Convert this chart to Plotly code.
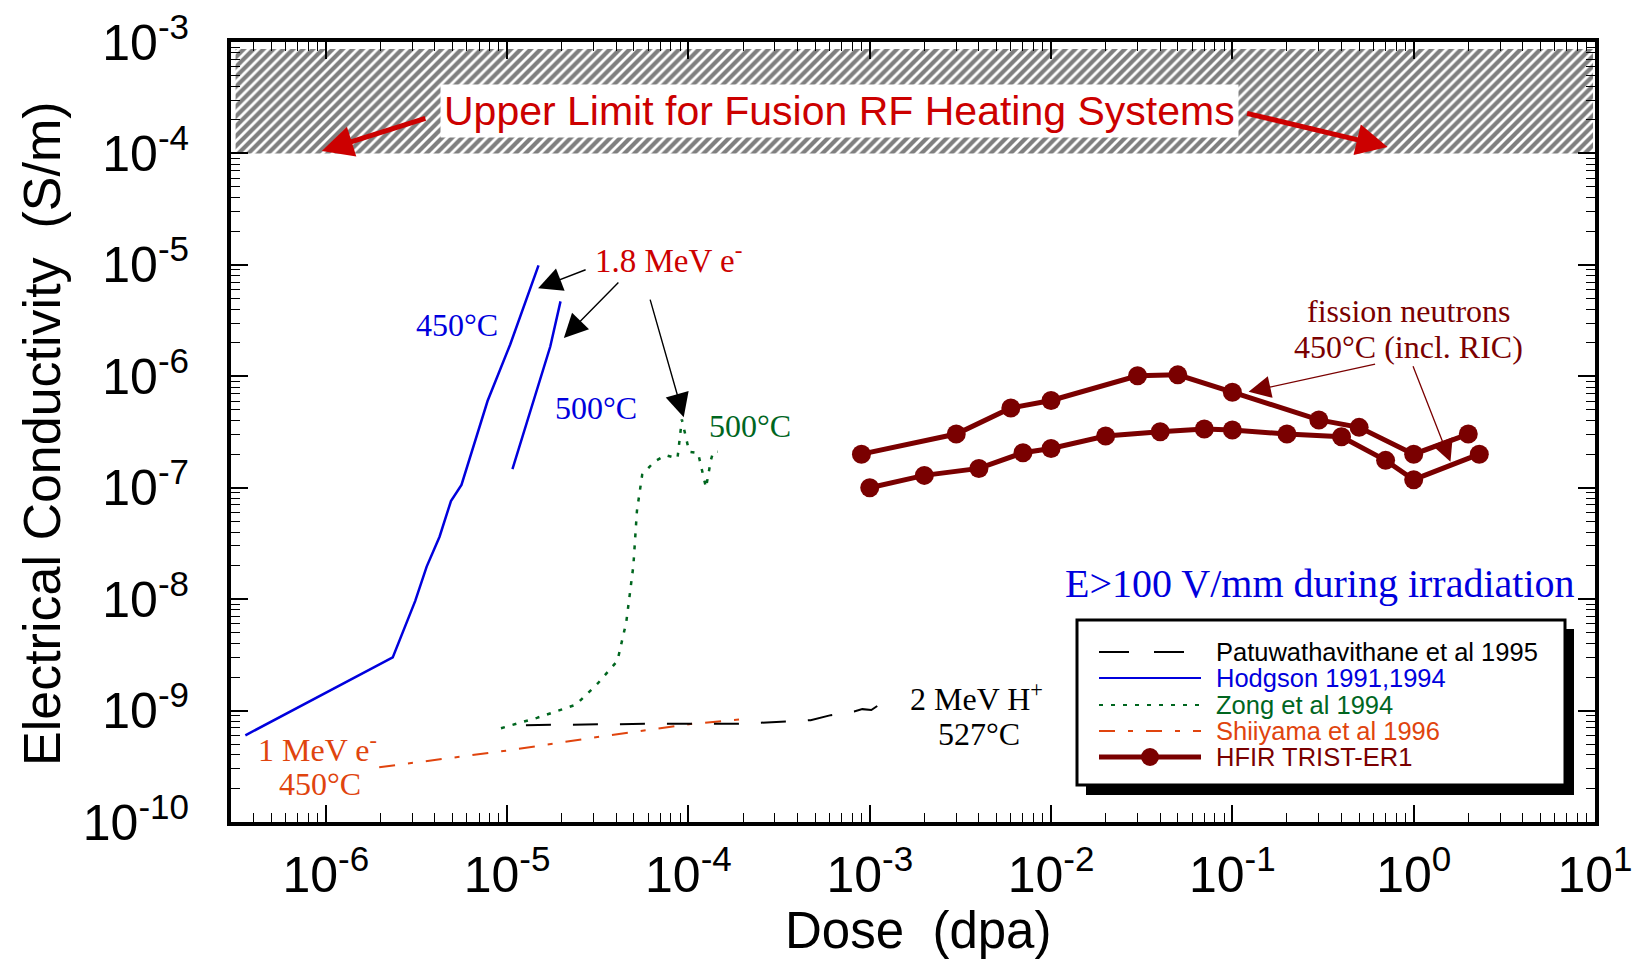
import numpy as np
import plotly.graph_objects as go

# ---------------- data ----------------
# Hodgson 1991,1994 (1.8 MeV electrons)
hodg450_x = [3.6e-7, 2.34e-6, 3.11e-6, 3.6e-6, 4.24e-6, 4.9e-6, 5.6e-6, 7.8e-6, 1.04e-5, 1.49e-5]
hodg450_y = [6.0e-10, 3.0e-9, 9.6e-9, 1.96e-8, 3.63e-8, 7.6e-8, 1.06e-7, 6.0e-7, 1.93e-6, 9.9e-6]
hodg500_x = [1.07e-5, 1.73e-5, 1.97e-5]
hodg500_y = [1.47e-7, 1.85e-6, 4.7e-6]

# Zong et al 1994
zong_x = [9.25e-6, 1.46e-5, 2.4e-5, 3.16e-5, 4.06e-5, 4.54e-5, 4.97e-5, 5.2e-5, 5.56e-5, 6.5e-5,
          7.5e-5, 8.7e-5, 9.2e-5, 1.01e-4, 1.13e-4, 1.25e-4, 1.33e-4, 1.37e-4, 1.45e-4]
zong_y = [6.95e-10, 8.6e-10, 1.13e-9, 1.75e-9, 2.8e-9, 6.2e-9, 2.0e-8, 6.2e-8, 1.31e-7, 1.72e-7,
          1.96e-7, 1.83e-7, 4.1e-7, 2.1e-7, 2.05e-7, 1.0e-7, 1.77e-7, 2.1e-7, 2.1e-7]

# Patuwathavithane et al 1995 (2 MeV protons)
patu_x = [1.27e-5, 5.9e-5, 1.89e-4, 3.4e-4, 4.72e-4, 6.1e-4, 8.2e-4, 9.1e-4, 1.02e-3, 1.17e-3]
patu_y = [7.4e-10, 7.6e-10, 7.6e-10, 8.0e-10, 8.2e-10, 9.1e-10, 9.8e-10, 1.03e-9, 1.01e-9, 1.18e-9]

# Shiiyama et al 1996 (1 MeV electrons)
shii_x = [1.97e-6, 1.02e-5, 3.3e-5, 1.05e-4, 1.96e-4]
shii_y = [3.1e-10, 4.4e-10, 5.85e-10, 7.6e-10, 8.35e-10]

# HFIR TRIST-ER1, two specimens
hfir_a_x = [9e-4, 3e-3, 6e-3, 1e-2, 3e-2, 5e-2, 0.1, 0.3, 0.5, 1.0, 2.0]
hfir_a_y = [2.0e-7, 3.03e-7, 5.2e-7, 6.07e-7, 1.01e-6, 1.03e-6, 7.2e-7, 4.06e-7, 3.48e-7, 2.0e-7, 3.03e-7]
hfir_b_x = [1e-3, 2e-3, 4e-3, 7e-3, 1e-2, 2e-2, 4e-2, 7e-2, 0.1, 0.2, 0.4, 0.7, 1.0, 2.3]
hfir_b_y = [1.0e-7, 1.29e-7, 1.49e-7, 2.06e-7, 2.25e-7, 2.91e-7, 3.18e-7, 3.36e-7, 3.3e-7, 3.03e-7,
            2.87e-7, 1.76e-7, 1.18e-7, 2.0e-7]

# shaded limit band
limit_x = [3.18e-7, 9.75]
limit_y = [1e-4, 8.65e-4]

# axes
x_range = [3e-7, 10]
y_range = [1e-10, 1e-3]
x_tick_exp = [-6, -5, -4, -3, -2, -1, 0, 1]
y_tick_exp = [-10, -9, -8, -7, -6, -5, -4, -3]

legend_names = ["Patuwathavithane et al 1995", "Hodgson 1991,1994", "Zong et al 1994",
                "Shiiyama et al 1996", "HFIR TRIST-ER1"]

# ---------------- styles ----------------
BLACK = "#000000"
BLUE = "#0000dd"
GREEN = "#00661f"
ORANGE = "#e0440e"
DARKRED = "#7a0000"
RED = "#cc0000"
SANS = "Liberation Sans, Arial, sans-serif"
SERIF = "Liberation Serif, Times New Roman, serif"

W, H = 1640, 960
PL, PR, PT, PB = 231, 1595, 42, 822


def px(X):
    return (X - PL) / (PR - PL)


def py(Y):
    return (PB - Y) / (PB - PT)


fig = go.Figure()

# hatched band
fig.add_trace(go.Scatter(
    x=[limit_x[0], limit_x[1], limit_x[1], limit_x[0], limit_x[0]],
    y=[limit_y[0], limit_y[0], limit_y[1], limit_y[1], limit_y[0]],
    mode="lines", fill="toself", line=dict(width=0),
    fillcolor="white",
    fillpattern=dict(shape="/", fgcolor="black", bgcolor="white", size=7, solidity=0.6),
    hoverinfo="skip", showlegend=False))

fig.add_trace(go.Scatter(x=shii_x, y=shii_y, mode="lines", showlegend=False,
                         line=dict(color=ORANGE, width=2, dash="16px,13px,5px,13px")))
fig.add_trace(go.Scatter(x=patu_x, y=patu_y, mode="lines", showlegend=False,
                         line=dict(color=BLACK, width=2, dash="25px,22px")))
fig.add_trace(go.Scatter(x=zong_x, y=zong_y, mode="lines", showlegend=False,
                         line=dict(color=GREEN, width=2.5, dash="4px,8px")))
fig.add_trace(go.Scatter(x=hodg450_x, y=hodg450_y, mode="lines", showlegend=False,
                         line=dict(color=BLUE, width=2.5)))
fig.add_trace(go.Scatter(x=hodg500_x, y=hodg500_y, mode="lines", showlegend=False,
                         line=dict(color=BLUE, width=2.5)))
for hx, hy in [(hfir_a_x, hfir_a_y), (hfir_b_x, hfir_b_y)]:
    fig.add_trace(go.Scatter(x=hx, y=hy, mode="lines+markers", showlegend=False,
                             line=dict(color=DARKRED, width=5),
                             marker=dict(color=DARKRED, size=19, line=dict(width=0))))

# ---------------- axes ----------------
def sup_label(e):
    return "10<sup>%d</sup>" % e


minor_x = [k * 10.0 ** n for n in range(-7, 1) for k in range(2, 10)]
minor_y = [k * 10.0 ** n for n in range(-10, -3) for k in range(2, 10)]

axis_common = dict(
    type="log", showgrid=False, zeroline=False, automargin=False,
    showline=True, linewidth=4, linecolor="black", mirror="allticks",
    ticks="inside", ticklen=17, tickwidth=1.5, tickcolor="black",
    tickfont=dict(family=SANS, size=50, color="black"),
)

fig.update_xaxes(
    **axis_common,
    range=[np.log10(x_range[0]), np.log10(x_range[1])],
    tickmode="array", tickvals=[10.0 ** e for e in x_tick_exp],
    ticktext=[sup_label(e) for e in x_tick_exp],
    ticklabelstandoff=6,
    minor=dict(ticks="inside", ticklen=9, tickwidth=1.2, tickcolor="black",
               tickmode="array", tickvals=minor_x, showgrid=False),
)
fig.update_yaxes(
    **axis_common,
    range=[np.log10(y_range[0]), np.log10(y_range[1])],
    tickmode="array", tickvals=[10.0 ** e for e in y_tick_exp],
    ticktext=[sup_label(e) for e in y_tick_exp],
    ticklabelstandoff=28,
    minor=dict(ticks="inside", ticklen=9, tickwidth=1.2, tickcolor="black",
               tickmode="array", tickvals=minor_y, showgrid=False),
)

annotations = []
shapes = []

# axis titles
annotations.append(dict(text="Dose  (dpa)", xref="paper", yref="paper", x=px(918), y=py(930),
                        showarrow=False, font=dict(family=SANS, size=51, color="black"),
                        xanchor="center", yanchor="middle"))
annotations.append(dict(text="Electrical Conductivity  (S/m)", xref="paper", yref="paper",
                        x=px(42), y=py(434), textangle=-90, showarrow=False,
                        font=dict(family=SANS, size=52, color="black"),
                        xanchor="center", yanchor="middle"))

# limit band label with arrows
annotations.append(dict(text="Upper Limit for Fusion RF Heating Systems", x=-3.166, y=-3.619,
                        xref="x", yref="y", showarrow=False, bgcolor="white", borderpad=3,
                        font=dict(family=SANS, size=41, color=RED)))
for hx, hy, ax, ay in [(-6.022, -3.978, 105, -33), (-0.144, -3.943, -142, -34)]:
    annotations.append(dict(text="", x=hx, y=hy, xref="x", yref="y", ax=ax, ay=ay,
                            showarrow=True, arrowhead=2, arrowsize=1.25, arrowwidth=5,
                            arrowcolor=RED, standoff=0))

# 1.8 MeV electron label with arrows
annotations.append(dict(text="1.8 MeV e<sup>-</sup>", x=-4.110, y=-4.939, xref="x", yref="y",
                        showarrow=False, font=dict(family=SERIF, size=33, color=RED)))
for hx, hy, ax, ay in [(-4.829, -5.209, 49, -19), (-4.687, -5.656, 56, -57),
                       (-4.026, -6.367, -34, -119)]:
    annotations.append(dict(text="", x=hx, y=hy, xref="x", yref="y", ax=ax, ay=ay,
                            showarrow=True, arrowhead=2, arrowsize=3.4, arrowwidth=1.4,
                            arrowcolor="black", standoff=0))

# temperature / condition labels
text_labels = [
    ("450°C", -5.276, -5.540, BLUE, 32),
    ("500°C", -4.508, -6.285, BLUE, 32),
    ("500°C", -3.663, -6.447, GREEN, 32),
    ("E>100 V/mm during irradiation", -0.514, -7.856, BLUE, 40),
    ("fission neutrons", -0.028, -5.413, DARKRED, 32),
    ("450°C (incl. RIC)", -0.028, -5.736, DARKRED, 32),
    ("2 MeV H<sup>+</sup>", -2.409, -8.876, BLACK, 32),
    ("527°C", -2.400, -9.214, BLACK, 32),
    ("1 MeV e<sup>-</sup>", -6.045, -9.338, ORANGE, 32),
    ("450°C", -6.033, -9.660, ORANGE, 32),
]
for txt, lx, ly, col, sz in text_labels:
    annotations.append(dict(text=txt, x=lx, y=ly, xref="x", yref="y", showarrow=False,
                            font=dict(family=SERIF, size=sz, color=col)))

# arrows from the fission neutron label
for hx, hy, ax, ay in [(-0.9105, -6.139, 128, -28), (0.2028, -6.768, -38, -97)]:
    annotations.append(dict(text="", x=hx, y=hy, xref="x", yref="y", ax=ax, ay=ay,
                            showarrow=True, arrowhead=2, arrowsize=3.4, arrowwidth=1.3,
                            arrowcolor=DARKRED, standoff=0))

# ---------------- legend box ----------------
shapes.append(dict(type="rect", xref="paper", yref="paper", layer="above",
                   x0=px(1086), x1=px(1574), y0=py(629), y1=py(795),
                   fillcolor="black", line=dict(width=0)))
shapes.append(dict(type="rect", xref="paper", yref="paper", layer="above",
                   x0=px(1077), x1=px(1565), y0=py(620), y1=py(785),
                   fillcolor="white", line=dict(color="black", width=3)))

legend_styles = [
    dict(color=BLACK, width=2, dash="30px,25px"),
    dict(color=BLUE, width=2),
    dict(color=GREEN, width=2, dash="4px,8px"),
    dict(color=ORANGE, width=2, dash="16px,13px,5px,13px"),
    dict(color=DARKRED, width=5),
]
legend_colors = [BLACK, BLUE, GREEN, ORANGE, DARKRED]
row_y = [652, 678, 705, 731, 757]
for name, sty, col, ry in zip(legend_names, legend_styles, legend_colors, row_y):
    shapes.append(dict(type="line", xref="paper", yref="paper", layer="above",
                       x0=px(1099), x1=px(1201), y0=py(ry), y1=py(ry), line=sty))
    annotations.append(dict(text=name, xref="paper", yref="paper", x=px(1214), y=py(ry),
                            xanchor="left", yanchor="middle", showarrow=False,
                            font=dict(family=SANS, size=25.5, color=col)))
shapes.append(dict(type="circle", xref="paper", yref="paper", layer="above",
                   x0=px(1141), x1=px(1159), y0=py(766), y1=py(748),
                   fillcolor=DARKRED, line=dict(width=0)))

fig.update_layout(
    width=W, height=H,
    margin=dict(l=PL, r=W - PR, t=PT, b=H - PB),
    paper_bgcolor="white", plot_bgcolor="white",
    showlegend=False,
    annotations=annotations, shapes=shapes,
)

fig.write_html("out.html")
